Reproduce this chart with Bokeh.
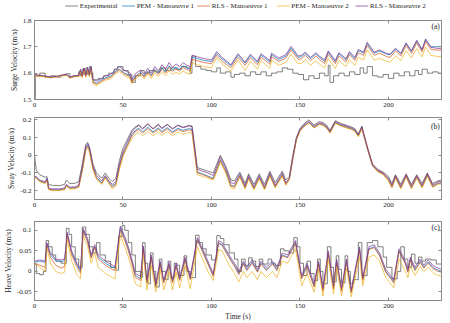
from bokeh.plotting import figure
from bokeh.models import (Range1d, LinearAxis, FixedTicker, CustomJSTickFormatter, Label)
from bokeh.core.properties import value
from bokeh.layouts import column
from bokeh.embed import file_html
from bokeh.resources import INLINE

# ---------------- data ----------------
series_names = ["Experimental", "PEM - Manoeuvre 1", "RLS - Manoeuvre 1",
                "PEM - Manoeuvre 2", "RLS - Manoeuvre 2"]
x_ticks = [0, 50, 100, 150, 200]

# (a) surge velocity
t_surge = [0, 3, 6, 9, 12, 15, 18, 20, 22, 25,
           26, 27, 28, 29, 30, 31, 32, 33, 35, 38,
           40, 43, 46, 48, 51, 54, 55, 57, 60, 62,
           64, 66, 68, 70, 72, 74, 76, 78, 80, 82,
           84, 86, 88, 89, 92, 96, 100, 103, 106, 111,
           115, 119, 122, 126, 128, 133, 134, 138, 142, 145,
           149, 151, 153, 156, 159, 161, 164, 166, 170, 172,
           176, 178, 181, 183, 186, 188, 192, 195, 199, 201,
           204, 207, 210, 213, 216, 219, 221, 224, 227, 230]
surge_rls2 = [1.595, 1.592, 1.590, 1.585, 1.588, 1.592, 1.596, 1.585, 1.590, 1.592,
              1.615, 1.590, 1.620, 1.592, 1.622, 1.595, 1.625, 1.575, 1.570, 1.580,
              1.590, 1.595, 1.615, 1.625, 1.610, 1.600, 1.575, 1.598, 1.612, 1.595,
              1.618, 1.600, 1.625, 1.608, 1.632, 1.615, 1.640, 1.622, 1.635, 1.625,
              1.640, 1.630, 1.625, 1.668, 1.662, 1.655, 1.650, 1.682, 1.660, 1.632,
              1.674, 1.642, 1.672, 1.645, 1.674, 1.648, 1.676, 1.658, 1.670, 1.702,
              1.665, 1.668, 1.680, 1.660, 1.678, 1.665, 1.650, 1.685, 1.648, 1.678,
              1.655, 1.682, 1.660, 1.690, 1.680, 1.718, 1.680, 1.688, 1.675, 1.672,
              1.695, 1.675, 1.715, 1.685, 1.725, 1.690, 1.730, 1.698, 1.695, 1.693]
surge_pem1 = [1.593, 1.590, 1.588, 1.584, 1.587, 1.591, 1.595, 1.584, 1.589, 1.590,
              1.612, 1.588, 1.618, 1.590, 1.620, 1.592, 1.622, 1.568, 1.562, 1.574,
              1.582, 1.588, 1.608, 1.615, 1.600, 1.590, 1.568, 1.588, 1.603, 1.588,
              1.608, 1.592, 1.615, 1.600, 1.620, 1.605, 1.628, 1.612, 1.622, 1.614,
              1.628, 1.620, 1.615, 1.660, 1.655, 1.648, 1.644, 1.675, 1.654, 1.628,
              1.668, 1.638, 1.666, 1.640, 1.668, 1.643, 1.670, 1.652, 1.664, 1.695,
              1.660, 1.663, 1.675, 1.655, 1.673, 1.660, 1.645, 1.680, 1.643, 1.673,
              1.650, 1.677, 1.655, 1.685, 1.676, 1.712, 1.676, 1.684, 1.672, 1.670,
              1.692, 1.673, 1.712, 1.683, 1.722, 1.688, 1.727, 1.700, 1.701, 1.700]
surge_rls1 = [1.592, 1.589, 1.587, 1.583, 1.586, 1.590, 1.594, 1.583, 1.588, 1.589,
              1.610, 1.586, 1.616, 1.588, 1.618, 1.590, 1.620, 1.565, 1.558, 1.570,
              1.578, 1.584, 1.604, 1.612, 1.596, 1.586, 1.565, 1.585, 1.600, 1.585,
              1.604, 1.588, 1.610, 1.596, 1.615, 1.600, 1.622, 1.607, 1.616, 1.608,
              1.622, 1.614, 1.608, 1.652, 1.647, 1.640, 1.636, 1.668, 1.646, 1.620,
              1.660, 1.630, 1.658, 1.632, 1.660, 1.635, 1.662, 1.645, 1.657, 1.688,
              1.652, 1.655, 1.668, 1.647, 1.665, 1.652, 1.637, 1.672, 1.636, 1.665,
              1.642, 1.670, 1.648, 1.677, 1.668, 1.705, 1.668, 1.676, 1.663, 1.660,
              1.685, 1.665, 1.705, 1.675, 1.715, 1.680, 1.720, 1.690, 1.688, 1.687]
surge_pem2 = [1.590, 1.588, 1.585, 1.582, 1.585, 1.589, 1.593, 1.580, 1.586, 1.587,
              1.605, 1.582, 1.612, 1.584, 1.614, 1.586, 1.615, 1.560, 1.553, 1.565,
              1.573, 1.578, 1.598, 1.606, 1.590, 1.580, 1.560, 1.578, 1.593, 1.578,
              1.596, 1.580, 1.600, 1.588, 1.604, 1.590, 1.610, 1.596, 1.603, 1.597,
              1.608, 1.600, 1.596, 1.640, 1.632, 1.625, 1.620, 1.658, 1.635, 1.607,
              1.650, 1.610, 1.645, 1.615, 1.648, 1.618, 1.650, 1.630, 1.640, 1.672,
              1.635, 1.638, 1.650, 1.630, 1.648, 1.634, 1.620, 1.655, 1.618, 1.648,
              1.625, 1.652, 1.630, 1.660, 1.650, 1.688, 1.650, 1.656, 1.645, 1.642,
              1.665, 1.648, 1.685, 1.658, 1.693, 1.662, 1.700, 1.668, 1.664, 1.663]
t_surge_exp = [0, 0.5, 3, 6, 9, 12, 15, 18, 20, 22,
               25, 26, 27, 28, 29, 30, 31, 32, 33, 36,
               39, 42, 45, 47, 50, 53, 55, 57, 60, 62,
               65, 68, 71, 74, 77, 80, 83, 86, 88, 89,
               91, 94, 97, 100, 103, 105, 108, 111, 113, 116,
               119, 122, 125, 128, 131, 134, 137, 140, 143, 146,
               149, 152, 155, 158, 161, 164, 166, 167, 169, 172,
               175, 178, 181, 184, 186, 188, 191, 194, 197, 200,
               203, 206, 209, 212, 215, 217, 219, 222, 225, 228,
               230]
surge_exp = [1.5, 1.59, 1.60, 1.585, 1.59, 1.585, 1.592, 1.598, 1.585, 1.588,
             1.605, 1.59, 1.615, 1.595, 1.62, 1.595, 1.625, 1.60, 1.575, 1.58,
             1.59, 1.6, 1.615, 1.625, 1.61, 1.595, 1.565, 1.59, 1.61, 1.6,
             1.61, 1.605, 1.62, 1.61, 1.62, 1.615, 1.625, 1.62, 1.6, 1.665,
             1.625, 1.615, 1.61, 1.605, 1.62, 1.6, 1.605, 1.585, 1.595, 1.6,
             1.59, 1.605, 1.595, 1.605, 1.59, 1.6, 1.605, 1.62, 1.615, 1.6,
             1.595, 1.575, 1.59, 1.58, 1.6, 1.59, 1.63, 1.565, 1.59, 1.6,
             1.59, 1.605, 1.595, 1.62, 1.6, 1.625, 1.59, 1.585, 1.595, 1.58,
             1.6, 1.59, 1.605, 1.59, 1.61, 1.595, 1.615, 1.6, 1.605, 1.6,
             1.6]

# (b) sway velocity
t_sway = [0, 1, 3, 6, 7, 8, 10, 14, 17, 18,
          20, 23, 25, 27, 29, 30, 31, 33, 35, 38,
          40, 42, 44, 46, 48, 50, 52, 55, 57, 59,
          61, 64, 67, 70, 72, 75, 78, 81, 84, 87,
          89, 92, 95, 98, 101, 103, 105, 108, 111, 113,
          116, 119, 121, 124, 127, 130, 133, 136, 140, 142,
          144, 146, 148, 150, 152, 155, 158, 161, 163, 165,
          167, 170, 173, 176, 179, 181, 183, 185, 188, 191,
          194, 197, 200, 202, 204, 207, 210, 213, 216, 219,
          222, 225, 228, 230]
sway_exp = [0.0, -0.085, -0.11, -0.125, -0.12, -0.165, -0.17, -0.172, -0.165, -0.14,
            -0.16, -0.158, -0.15, -0.05, 0.06, 0.072, 0.05, -0.05, -0.1, -0.13,
            -0.1, -0.13, -0.15, -0.13, -0.03, 0.04, 0.08, 0.14, 0.16, 0.172,
            0.15, 0.178, 0.15, 0.175, 0.152, 0.175, 0.15, 0.17, 0.158, 0.168,
            0.165, -0.07, -0.08, -0.09, -0.1, -0.05, 0.0, -0.06, -0.14, -0.145,
            -0.095, -0.16, -0.105, -0.165, -0.105, -0.165, -0.09, -0.155, -0.09, -0.14,
            -0.12, 0.0, 0.1, 0.15, 0.175, 0.2, 0.17, 0.19, 0.185, 0.17,
            0.14, 0.195, 0.18, 0.17, 0.16, 0.15, 0.12, 0.165, 0.05, -0.05,
            -0.08, -0.095, -0.12, -0.16, -0.11, -0.165, -0.105, -0.165, -0.11, -0.16,
            -0.1, -0.16, -0.145, -0.14]
sway_rls2 = [-0.12, -0.12, -0.14, -0.15, -0.13, -0.185, -0.19, -0.19, -0.185, -0.165,
             -0.18, -0.178, -0.17, -0.07, 0.05, 0.065, 0.045, -0.06, -0.115, -0.145,
             -0.115, -0.145, -0.165, -0.15, -0.05, 0.02, 0.065, 0.13, 0.155, 0.168,
             0.148, 0.175, 0.148, 0.172, 0.15, 0.172, 0.148, 0.168, 0.155, 0.165,
             0.162, -0.08, -0.09, -0.1, -0.115, -0.065, -0.01, -0.07, -0.155, -0.16,
             -0.105, -0.175, -0.115, -0.18, -0.115, -0.18, -0.1, -0.17, -0.1, -0.155,
             -0.13, -0.01, 0.095, 0.145, 0.168, 0.192, 0.163, 0.183, 0.178, 0.163,
             0.135, 0.19, 0.175, 0.165, 0.155, 0.145, 0.115, 0.16, 0.045, -0.055,
             -0.085, -0.1, -0.13, -0.17, -0.115, -0.175, -0.11, -0.175, -0.115, -0.17,
             -0.105, -0.168, -0.15, -0.148]
sway_pem1 = [-0.125, -0.125, -0.145, -0.155, -0.135, -0.19, -0.195, -0.195, -0.19, -0.17,
             -0.185, -0.183, -0.175, -0.08, 0.04, 0.055, 0.035, -0.07, -0.125, -0.155,
             -0.12, -0.15, -0.175, -0.16, -0.065, 0.005, 0.05, 0.115, 0.14, 0.152,
             0.132, 0.158, 0.132, 0.155, 0.134, 0.156, 0.132, 0.152, 0.14, 0.15,
             0.147, -0.095, -0.105, -0.118, -0.13, -0.08, -0.025, -0.085, -0.17, -0.175,
             -0.115, -0.182, -0.125, -0.188, -0.125, -0.188, -0.11, -0.178, -0.11, -0.163,
             -0.135, -0.02, 0.09, 0.14, 0.163, 0.187, 0.158, 0.178, 0.173, 0.158,
             0.13, 0.185, 0.17, 0.16, 0.15, 0.14, 0.11, 0.155, 0.04, -0.06,
             -0.09, -0.105, -0.14, -0.18, -0.125, -0.185, -0.12, -0.185, -0.125, -0.18,
             -0.115, -0.178, -0.16, -0.158]
sway_rls1 = [-0.125, -0.128, -0.148, -0.158, -0.14, -0.192, -0.197, -0.198, -0.193, -0.172,
             -0.188, -0.186, -0.178, -0.085, 0.035, 0.05, 0.03, -0.075, -0.13, -0.16,
             -0.125, -0.155, -0.18, -0.165, -0.07, 0.0, 0.045, 0.108, 0.133, 0.145,
             0.125, 0.15, 0.125, 0.148, 0.127, 0.149, 0.125, 0.145, 0.133, 0.143,
             0.14, -0.1, -0.11, -0.122, -0.135, -0.085, -0.03, -0.09, -0.175, -0.18,
             -0.118, -0.185, -0.128, -0.19, -0.128, -0.19, -0.113, -0.18, -0.113, -0.165,
             -0.135, -0.015, 0.088, 0.138, 0.16, 0.184, 0.156, 0.176, 0.17, 0.156,
             0.128, 0.182, 0.167, 0.157, 0.147, 0.137, 0.107, 0.152, 0.05, -0.05,
             -0.09, -0.105, -0.14, -0.182, -0.12, -0.185, -0.115, -0.185, -0.12, -0.18,
             -0.11, -0.175, -0.157, -0.155]
sway_pem2 = [-0.13, -0.13, -0.15, -0.16, -0.14, -0.195, -0.2, -0.2, -0.195, -0.175,
             -0.19, -0.19, -0.182, -0.09, 0.025, 0.04, 0.02, -0.08, -0.135, -0.165,
             -0.13, -0.16, -0.19, -0.175, -0.08, -0.01, 0.035, 0.095, 0.118, 0.13,
             0.11, 0.135, 0.11, 0.133, 0.112, 0.134, 0.11, 0.13, 0.118, 0.128,
             0.125, -0.11, -0.12, -0.13, -0.14, -0.095, -0.04, -0.1, -0.185, -0.19,
             -0.125, -0.19, -0.135, -0.195, -0.135, -0.195, -0.12, -0.185, -0.12, -0.17,
             -0.14, -0.025, 0.085, 0.135, 0.158, 0.182, 0.153, 0.173, 0.168, 0.153,
             0.125, 0.18, 0.165, 0.155, 0.145, 0.135, 0.105, 0.15, 0.04, -0.06,
             -0.095, -0.11, -0.145, -0.185, -0.13, -0.19, -0.125, -0.19, -0.13, -0.185,
             -0.12, -0.183, -0.165, -0.162]

# (c) heave velocity
t_heave = [0, 3, 6, 7, 9, 12, 15, 17, 18.5, 21,
           24, 26, 27.5, 30, 32, 34, 36, 40, 44, 45.5,
           48.5, 51, 53, 55, 57, 60, 61.5, 63.5, 66, 68.5,
           71, 73, 76, 78, 80, 82, 85, 88, 92, 95,
           98, 101, 104, 106, 110, 113, 115.5, 118, 120, 123,
           126, 128, 131, 134.5, 137, 140, 143, 147.5, 151, 154,
           158, 160.5, 163, 166, 169, 170.7, 173.5, 176.3, 179, 183.7,
           185.5, 189, 192, 195, 198.5, 203, 206, 209.6, 211, 212.4,
           215, 218, 220, 222.5, 225, 227, 230]
heave_rls2 = [0.025, 0.028, 0.025, 0.07, 0.045, 0.03, 0.028, 0.03, 0.095, 0.05,
              0.02, 0.005, 0.105, 0.08, 0.04, 0.065, 0.04, 0.025, 0.015, 0.012,
              0.11, 0.085, 0.06, 0.03, -0.005, -0.012, 0.062, -0.02, 0.04, -0.03,
              0.025, -0.02, 0.022, -0.02, 0.02, -0.015, 0.035, -0.012, 0.082, 0.055,
              0.025, -0.005, 0.075, 0.07, 0.04, 0.02, 0.0, 0.025, 0.01, 0.028,
              0.005, 0.025, 0.01, 0.025, 0.01, 0.045, 0.04, 0.075, -0.01, 0.02,
              -0.03, 0.025, -0.04, 0.05, -0.035, 0.03, -0.04, 0.03, -0.045, 0.06,
              -0.015, 0.06, 0.065, 0.045, 0.005, -0.02, 0.055, 0.025, 0.005, 0.035,
              0.01, 0.03, 0.015, 0.028, 0.015, 0.01, 0.005]
heave_pem1 = [0.022, 0.025, 0.022, 0.066, 0.04, 0.026, 0.024, 0.026, 0.09, 0.045,
              0.016, 0.0, 0.1, 0.075, 0.035, 0.06, 0.035, 0.02, 0.01, 0.008,
              0.105, 0.08, 0.055, 0.025, -0.01, -0.018, 0.057, -0.025, 0.035, -0.035,
              0.02, -0.025, 0.017, -0.025, 0.015, -0.02, 0.03, -0.017, 0.077, 0.05,
              0.02, -0.01, 0.07, 0.065, 0.035, 0.015, -0.005, 0.02, 0.005, 0.023,
              0.0, 0.02, 0.005, 0.02, 0.005, 0.04, 0.035, 0.07, -0.015, 0.015,
              -0.035, 0.02, -0.045, 0.045, -0.04, 0.025, -0.045, 0.025, -0.05, 0.055,
              -0.02, 0.055, 0.06, 0.04, 0.0, -0.025, 0.05, 0.02, 0.0, 0.03,
              0.005, 0.025, 0.01, 0.023, 0.01, 0.005, 0.0]
heave_rls1 = [0.02, 0.015, 0.01, 0.063, 0.035, 0.015, 0.008, 0.012, 0.088, 0.04,
              0.01, -0.005, 0.098, 0.072, 0.032, 0.058, 0.03, 0.015, 0.005, 0.002,
              0.1, 0.075, 0.05, 0.02, -0.015, -0.022, 0.055, -0.028, 0.033, -0.038,
              0.018, -0.028, 0.015, -0.028, 0.012, -0.022, 0.028, -0.02, 0.075, 0.048,
              0.018, -0.012, 0.068, 0.063, 0.033, 0.012, -0.008, 0.018, 0.002, 0.02,
              -0.002, 0.018, 0.002, 0.018, 0.002, 0.038, 0.033, 0.068, -0.018, 0.012,
              -0.038, 0.018, -0.048, 0.043, -0.043, 0.022, -0.048, 0.022, -0.052, 0.052,
              -0.022, 0.053, 0.058, 0.038, -0.002, -0.028, 0.048, 0.018, -0.002, 0.028,
              0.002, 0.022, 0.008, 0.02, 0.008, 0.002, -0.002]
heave_pem2 = [0.02, 0.01, 0.0, 0.057, 0.02, 0.0, -0.005, -0.002, 0.078, 0.025,
              -0.008, -0.018, 0.088, 0.06, 0.02, 0.045, 0.01, -0.005, -0.015, -0.018,
              0.088, 0.06, 0.035, 0.005, -0.03, -0.038, 0.041, -0.045, 0.015, -0.05,
              0.005, -0.045, 0.0, -0.045, -0.002, -0.04, 0.015, -0.042, 0.06, 0.03,
              0.0, -0.022, 0.053, 0.05, 0.015, -0.005, -0.025, 0.0, -0.015, 0.0,
              -0.02, 0.0, -0.015, 0.0, -0.015, 0.025, 0.02, 0.055, -0.035, -0.005,
              -0.05, 0.005, -0.06, 0.03, -0.055, 0.01, -0.06, 0.008, -0.062, 0.035,
              -0.035, 0.035, 0.04, 0.025, -0.015, -0.04, 0.03, 0.0, -0.015, 0.012,
              -0.01, 0.012, 0.0, 0.01, -0.002, -0.008, -0.012]
t_heave_exp = [0, 1, 3, 5, 6.5, 8, 10, 12, 15, 18,
               19.5, 21, 23, 25, 27, 29, 31, 33, 35, 37,
               40, 43, 46, 47.5, 49.5, 51, 53, 55, 57, 60,
               61, 62.5, 64, 65.5, 67, 68.5, 70.5, 72, 74, 75.5,
               77, 79, 80.5, 82, 84.5, 86, 88, 91, 93, 95,
               97, 100, 103, 105, 107, 110, 113, 115, 117, 119,
               121, 123, 125, 127, 129, 132, 134, 136, 139, 141,
               144, 146.5, 148.5, 150, 152, 154, 156, 158, 160, 161.5,
               163, 165.5, 167.5, 169, 170.5, 172, 173.5, 175.5, 177, 178.5,
               180, 183, 185, 188, 191, 194, 197, 199, 202, 205,
               207, 209, 211, 213, 215, 217, 219, 221, 224, 227,
               230]
heave_exp = [0.018, -0.005, -0.008, 0.0, 0.075, 0.06, 0.04, 0.025, 0.02, 0.105,
             0.09, 0.06, 0.03, 0.01, 0.108, 0.09, 0.06, 0.045, 0.07, 0.04,
             0.025, 0.01, 0.003, 0.085, 0.112, 0.1, 0.07, 0.04, 0.0, -0.015,
             0.07, 0.02, -0.03, 0.045, 0.0, -0.038, 0.03, 0.0, -0.02, 0.025,
             -0.015, 0.02, 0.015, -0.01, 0.038, 0.0, -0.015, 0.088, 0.07, 0.055,
             0.04, 0.028, 0.087, 0.08, 0.065, 0.045, 0.03, 0.0, 0.03, 0.015,
             0.033, 0.025, 0.012, 0.03, 0.018, 0.03, 0.02, 0.015, 0.055, 0.05,
             0.045, 0.082, 0.06, 0.02, -0.01, 0.025, -0.005, -0.022, 0.03, 0.0,
             -0.03, 0.06, 0.01, -0.025, 0.038, 0.005, -0.028, 0.038, 0.0, -0.03,
             -0.02, 0.07, -0.01, 0.07, 0.075, 0.06, 0.035, 0.01, -0.018, 0.0,
             0.06, 0.03, 0.01, 0.042, 0.02, 0.035, 0.025, 0.03, 0.028, 0.018,
             0.018]

for a, b in [(t_surge, surge_rls2), (t_surge, surge_pem1), (t_surge, surge_rls1),
             (t_surge, surge_pem2), (t_surge_exp, surge_exp),
             (t_sway, sway_exp), (t_sway, sway_rls2), (t_sway, sway_pem1),
             (t_sway, sway_rls1), (t_sway, sway_pem2),
             (t_heave, heave_rls2), (t_heave, heave_pem1), (t_heave, heave_rls1),
             (t_heave, heave_pem2), (t_heave_exp, heave_exp)]:
    assert len(a) == len(b), (len(a), len(b))

# ---------------- style ----------------
FONT = "Liberation Serif"
AXC = "#8a8a8a"
TXT = "#262626"
C_EXP = "#4a4a4a"
C_PEM1 = "#0072BD"
C_RLS1 = "#D95319"
C_PEM2 = "#EDB120"
C_RLS2 = "#7E2F8E"
COLORS = [C_EXP, C_PEM1, C_RLS1, C_PEM2, C_RLS2]
LW = 0.7
LEGEND_TEXT_X = [50, 113, 196, 284, 371]   # layout positions (pixels) of legend labels


def make_fig(h, top, bottom, yr, yticks, ylabel, tag, tag_y, xlabel=None):
    p = figure(width=450, height=h, output_backend="svg", toolbar_location=None,
               x_range=Range1d(0, 230), y_range=Range1d(*yr),
               min_border_left=26, min_border_right=9,
               min_border_top=top, min_border_bottom=bottom)
    p.xgrid.visible = False
    p.ygrid.visible = False
    p.outline_line_color = AXC
    p.border_fill_color = "white"
    fmt = CustomJSTickFormatter(code="return String(tick);")
    for ax, tk in ((p.xaxis[0], x_ticks), (p.yaxis[0], yticks)):
        ax.ticker = FixedTicker(ticks=tk, minor_ticks=[])
        ax.formatter = fmt
        ax.axis_line_color = AXC
        ax.major_tick_line_color = AXC
        ax.major_tick_in = 3
        ax.major_tick_out = 0
        ax.minor_tick_line_color = None
        ax.major_label_text_font = FONT
        ax.major_label_text_font_size = "7px"
        ax.major_label_text_color = TXT
        ax.major_label_standoff = 3
        ax.axis_label_text_font = FONT
        ax.axis_label_text_font_size = "7.5px"
        ax.axis_label_text_font_style = "normal"
        ax.axis_label_text_color = TXT
        ax.axis_label_standoff = 1
    p.yaxis[0].axis_label = ylabel
    if xlabel:
        p.xaxis[0].axis_label = xlabel
    empty = CustomJSTickFormatter(code="return '';")
    for loc, tk in (("above", x_ticks), ("right", yticks)):
        ax = LinearAxis(ticker=FixedTicker(ticks=tk, minor_ticks=[]), formatter=empty,
                        major_label_text_font_size="0px", major_label_standoff=0,
                        major_tick_in=3, major_tick_out=0, axis_line_color=AXC,
                        major_tick_line_color=AXC, minor_tick_line_color=None)
        p.add_layout(ax, loc)
    p.add_layout(Label(x=229, y=tag_y, text=tag, text_align="right", text_baseline="top",
                       text_font=FONT, text_font_size="7.5px", text_color=TXT))
    return p


# legend strip on top (pixel-like coordinates)
pl = figure(width=450, height=12, output_backend="svg", toolbar_location=None,
            x_range=Range1d(0, 450), y_range=Range1d(0, 12),
            x_axis_type=None, y_axis_type=None,
            min_border_left=0, min_border_right=0, min_border_top=0, min_border_bottom=0)
pl.outline_line_color = None
pl.xgrid.visible = False
pl.ygrid.visible = False
pl.segment(x0=[x - 16 for x in LEGEND_TEXT_X], y0=[6.5] * 5,
           x1=[x - 2 for x in LEGEND_TEXT_X], y1=[6.5] * 5,
           line_color=COLORS, line_width=LW)
pl.text(x=LEGEND_TEXT_X, y=[6.5] * 5, text=series_names, text_font=value(FONT),
        text_font_size="7px", text_color=TXT, text_baseline="middle", text_align="left")

pa = make_fig(98, 8, 11, (1.5, 1.8), [1.5, 1.6, 1.7, 1.8],
              "Surge Velocity (m/s)", "(a)", 1.795)
pa.step(t_surge_exp, surge_exp, mode="after", color=C_EXP, line_width=LW)
pa.line(t_surge, surge_pem1, color=C_PEM1, line_width=LW)
pa.line(t_surge, surge_rls1, color=C_RLS1, line_width=LW)
pa.line(t_surge, surge_pem2, color=C_PEM2, line_width=LW)
pa.line(t_surge, surge_rls2, color=C_RLS2, line_width=LW)

pb = make_fig(100, 7, 11, (-0.25, 0.213), [-0.2, -0.1, 0, 0.1, 0.2],
              "Sway Velocity (m/s)", "(b)", 0.185)
pb.line(t_sway, sway_exp, color=C_EXP, line_width=LW)
pb.line(t_sway, sway_pem1, color=C_PEM1, line_width=LW)
pb.line(t_sway, sway_rls1, color=C_RLS1, line_width=LW)
pb.line(t_sway, sway_pem2, color=C_PEM2, line_width=LW)
pb.line(t_sway, sway_rls2, color=C_RLS2, line_width=LW)

pc = make_fig(113, 11, 21, (-0.0707, 0.1214), [-0.05, 0, 0.05, 0.1],
              "Heave Velocity (m/s)", "(c)", 0.117, xlabel="Time (s)")
pc.step(t_heave_exp, heave_exp, mode="after", color=C_EXP, line_width=LW)
pc.line(t_heave, heave_pem1, color=C_PEM1, line_width=LW)
pc.line(t_heave, heave_rls1, color=C_RLS1, line_width=LW)
pc.line(t_heave, heave_pem2, color=C_PEM2, line_width=LW)
pc.line(t_heave, heave_rls2, color=C_RLS2, line_width=LW)

layout = column(pl, pa, pb, pc, spacing=0)
open("out.html", "w").write(file_html(layout, INLINE))
